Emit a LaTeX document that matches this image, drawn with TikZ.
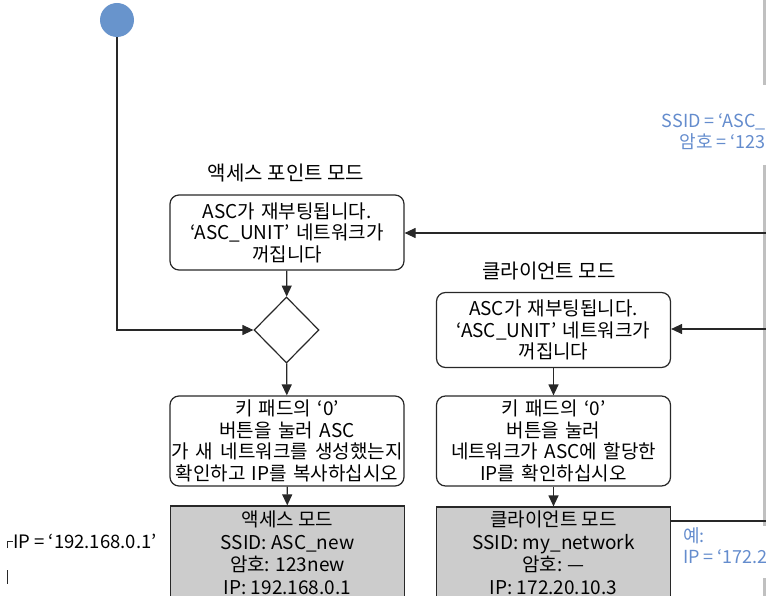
\documentclass[tikz,border=0pt]{standalone}
\usepackage{fontspec}
\setmainfont{Noto Sans CJK KR}
\usetikzlibrary{arrows.meta,shapes.geometric}
\definecolor{startblue}{RGB}{104,148,204}
\definecolor{notblue}{RGB}{100,140,205}
\definecolor{boxgray}{RGB}{204,204,204}
\definecolor{edgegray}{RGB}{192,192,192}
\definecolor{linedark}{RGB}{40,40,40}
\tikzset{
  arr/.style={draw=linedark, line width=1.2pt, -{Triangle[length=11pt,width=10pt]}},
  plainline/.style={draw=linedark, line width=1.2pt},
  rbox/.style={draw=linedark, line width=1.2pt, rounded corners=9pt, fill=white,
    minimum width=234pt, text width=232pt, align=center, inner sep=0pt,
    font=\fontsize{19}{21.5}\selectfont},
  gbox/.style={draw=linedark, line width=1.2pt, fill=boxgray, minimum width=234pt,
    minimum height=100pt, inner sep=0pt},
  gtext/.style={align=center, inner sep=0pt, font=\fontsize{19}{22.7}\selectfont},
  title/.style={inner sep=0pt, font=\fontsize{20}{22}\selectfont},
  note/.style={inner sep=0pt, text=notblue, font=\fontsize{18}{21}\selectfont},
  edge/.style={draw=edgegray, line width=2.6pt}
}
\begin{document}
\begin{tikzpicture}[x=1pt,y=-1pt]
\useasboundingbox (0,0) rectangle (766,596);
\clip (0,0) rectangle (766,596);
% right gray edge
\draw[edge] (764.5,0) -- (764.5,85);
\draw[edge] (764.5,165) -- (764.5,526);
\draw[edge] (764.5,578) -- (764.5,600);
% start
\node[circle, fill=startblue, minimum size=34pt, inner sep=0pt] (start) at (117,20) {};
% left column
\node[title] (t1) at (286,173) {액세스 포인트 모드};
\node[rbox, minimum height=75pt] (b1) at (287,232.5) {ASC가 재부팅됩니다.\\‘ASC\_UNIT’ 네트워크가\\꺼집니다};
\node[diamond, draw=linedark, line width=1.2pt, minimum width=65pt, minimum height=66pt, inner sep=0pt] (d) at (286.5,330) {};
\node[rbox, minimum height=90pt] (b2) at (287,441) {키 패드의 ‘0’\\버튼을 눌러 ASC\\가\hspace{1pt} 새\hspace{1pt} 네트워크를\hspace{1pt} 생성했는지\\확인하고 IP를 복사하십시오};
\node[gbox] (g1) at (287.5,556) {};
\node[gtext, anchor=north] (g1t) at (287.5,510.5) {액세스 모드\\SSID: ASC\_new\\암호: 123new\\IP: 192.168.0.1};
% right column
\node[title] (t2) at (549,271) {클라이언트 모드};
\node[rbox, minimum height=75pt] (b4) at (553.5,330) {ASC가 재부팅됩니다.\\‘ASC\_UNIT’ 네트워크가\\꺼집니다};
\node[rbox, minimum height=90pt] (b5) at (553.5,441) {키 패드의 ‘0’\\버튼을 눌러\\네트워크가 ASC에 할당한\\IP를 확인하십시오};
\node[gbox] (g2) at (553.5,557) {};
\node[gtext, anchor=north] (g2t) at (553.5,510.5) {클라이언트 모드\\SSID: my\_network\\암호: ---\\IP: 172.20.10.3};
% connectors
\draw[arr] (start) |- (d.west);
\draw[arr] (b1) -- (d);
\draw[arr] (d) -- (b2);
\draw[arr] (b2) -- (g1);
\draw[arr] (b4) -- (b5);
\draw[arr] (b5) -- (g2);
\coordinate (r1) at (766,233);
\coordinate (r2) at (766,329);
\coordinate (r3) at (766,521);
\draw[arr] (r1) -- (b1.east |- r1);
\draw[arr] (r2) -- (b4.east |- r2);
\draw[plainline] (r3) -- (g2.east |- r3);
% notes
\node[note, anchor=east, align=right] (n1) at (766,132) {SSID = ‘ASC\_\\암호 = ‘123};
\node[note, anchor=north west, align=left] (n2) at (683,527) {예:\\IP = ‘172.2};
% left bracket note
\coordinate (k1) at (7,541);
\coordinate (k2) at (13,541);
\coordinate (k3) at (7,548);
\draw[line width=1pt, draw=linedark] (k3) -- (k1) -- (k2);
\coordinate (k4) at (7,570);
\coordinate (k5) at (7,584);
\draw[line width=1pt, draw=linedark] (k4) -- (k5);
\node[inner sep=0pt, anchor=base west, font=\fontsize{18.5}{21}\selectfont] (ipn) at (13,548) {IP = ‘192.168.0.1’};
\end{tikzpicture}
\end{document}
